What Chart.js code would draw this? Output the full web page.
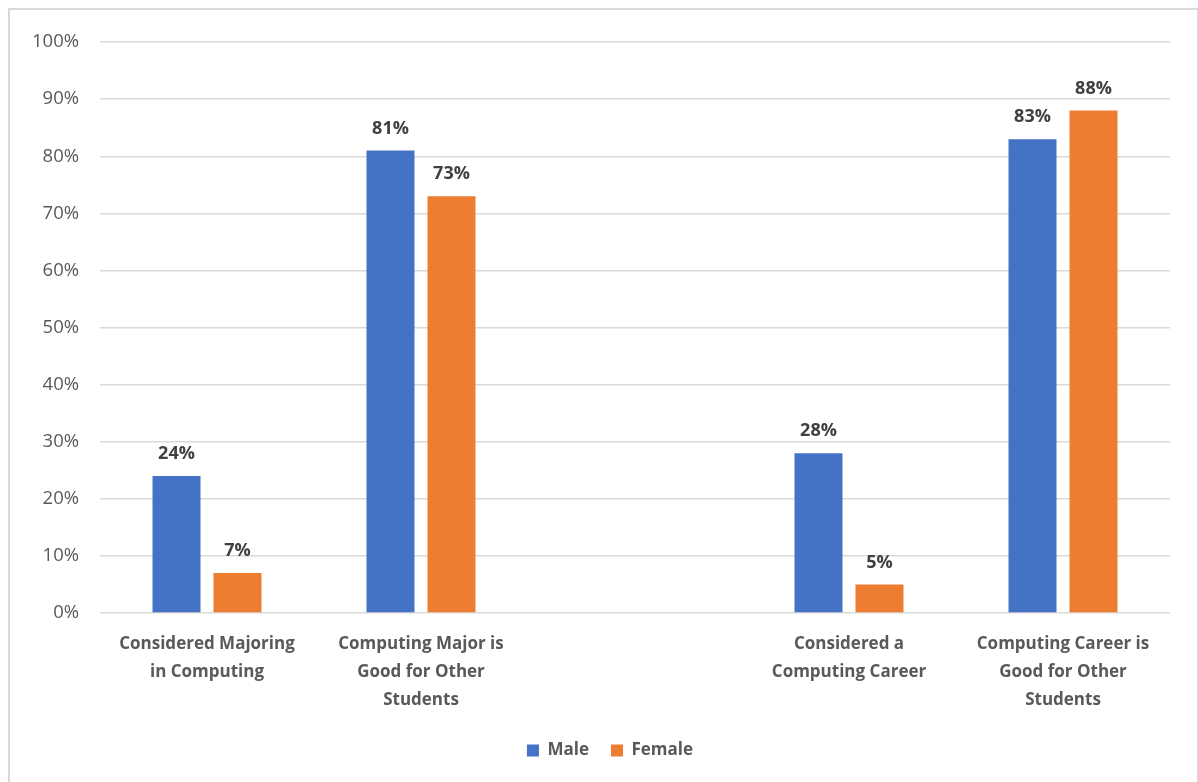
<!DOCTYPE html>
<html>
<head>
<meta charset="utf-8">
<script src="https://cdn.jsdelivr.net/npm/chart.js@4/dist/chart.umd.min.js"></script>
<style>
  body { margin: 0; background: #fff; }
  #box {
    position: absolute; left: 8px; top: 8px;
    width: 1187px; height: 790px;
    border: 2px solid #d9d9d9; background: #fff;
  }
  #wrap { position: absolute; left: 0; top: 0; width: 1187px; height: 772px; }
</style>
</head>
<body>
<div id="box"><div id="wrap"><canvas id="chart"></canvas></div></div>
<script>
// categories (the empty one is the gap in the middle)
const categories = [
  ['Considered Majoring', 'in Computing'],
  ['Computing Major is', 'Good for Other', 'Students'],
  '',
  ['Considered a', 'Computing Career'],
  ['Computing Career is', 'Good for Other', 'Students']
];
const maleValues = [24, 81, null, 28, 83];
const femaleValues = [7, 73, null, 5, 88];
const yTicks = [0, 10, 20, 30, 40, 50, 60, 70, 80, 90, 100];

const FONT = '"Open Sans", Lato, sans-serif';

// draws the bold % numbers above each bar
const barValueLabels = {
  id: 'barValueLabels',
  afterDatasetsDraw(chart) {
    const ctx = chart.ctx;
    ctx.save();
    ctx.font = 'bold 18px ' + FONT;
    ctx.fillStyle = '#404040';
    ctx.textAlign = 'center';
    ctx.textBaseline = 'bottom';
    chart.data.datasets.forEach((ds, i) => {
      chart.getDatasetMeta(i).data.forEach((bar, j) => {
        const v = ds.data[j];
        if (v === null) return;
        ctx.fillText(v + '%', bar.x, bar.y - 13);
      });
    });
    ctx.restore();
  }
};

// the original legend sits a bit right of the canvas centre
const nudgeLegend = {
  id: 'nudgeLegend',
  afterLayout(chart) {
    chart.legend.left += 20;
    chart.legend.right += 20;
  }
};

new Chart(document.getElementById('chart'), {
  type: 'bar',
  data: {
    labels: categories,
    datasets: [
      { label: 'Male', data: maleValues, backgroundColor: '#4472C4' },
      { label: 'Female', data: femaleValues, backgroundColor: '#ED7D31' }
    ]
  },
  options: {
    responsive: true,
    maintainAspectRatio: false,
    animation: false,
    categoryPercentage: 0.57,
    barPercentage: 0.787,
    layout: { padding: { top: 29, right: 27, left: 0, bottom: 13 } },
    plugins: {
      legend: {
        position: 'bottom',
        labels: {
          font: { family: FONT, size: 17, weight: 'bold' },
          color: '#595959',
          boxWidth: 12,
          boxHeight: 12,
          padding: 22
        }
      },
      tooltip: { enabled: false }
    },
    scales: {
      x: {
        grid: { display: false },
        border: { display: false },
        ticks: {
          font: { family: FONT, size: 17, weight: 'bold', lineHeight: 1.65 },
          color: '#595959',
          maxRotation: 0,
          autoSkip: false,
          padding: 9
        },
        afterFit(scale) { scale.height = 107; }
      },
      y: {
        min: 0,
        max: 100,
        afterBuildTicks(scale) { scale.ticks = yTicks.map(v => ({ value: v })); },
        grid: { color: '#d9d9d9', lineWidth: 1.5, drawTicks: false },
        border: { display: false },
        ticks: {
          font: { family: FONT, size: 18.5 },
          color: '#595959',
          padding: 21,
          callback: v => v + '%'
        },
        afterFit(scale) { scale.width = 90; }
      }
    }
  },
  plugins: [barValueLabels, nudgeLegend]
});
</script>
</body>
</html>
